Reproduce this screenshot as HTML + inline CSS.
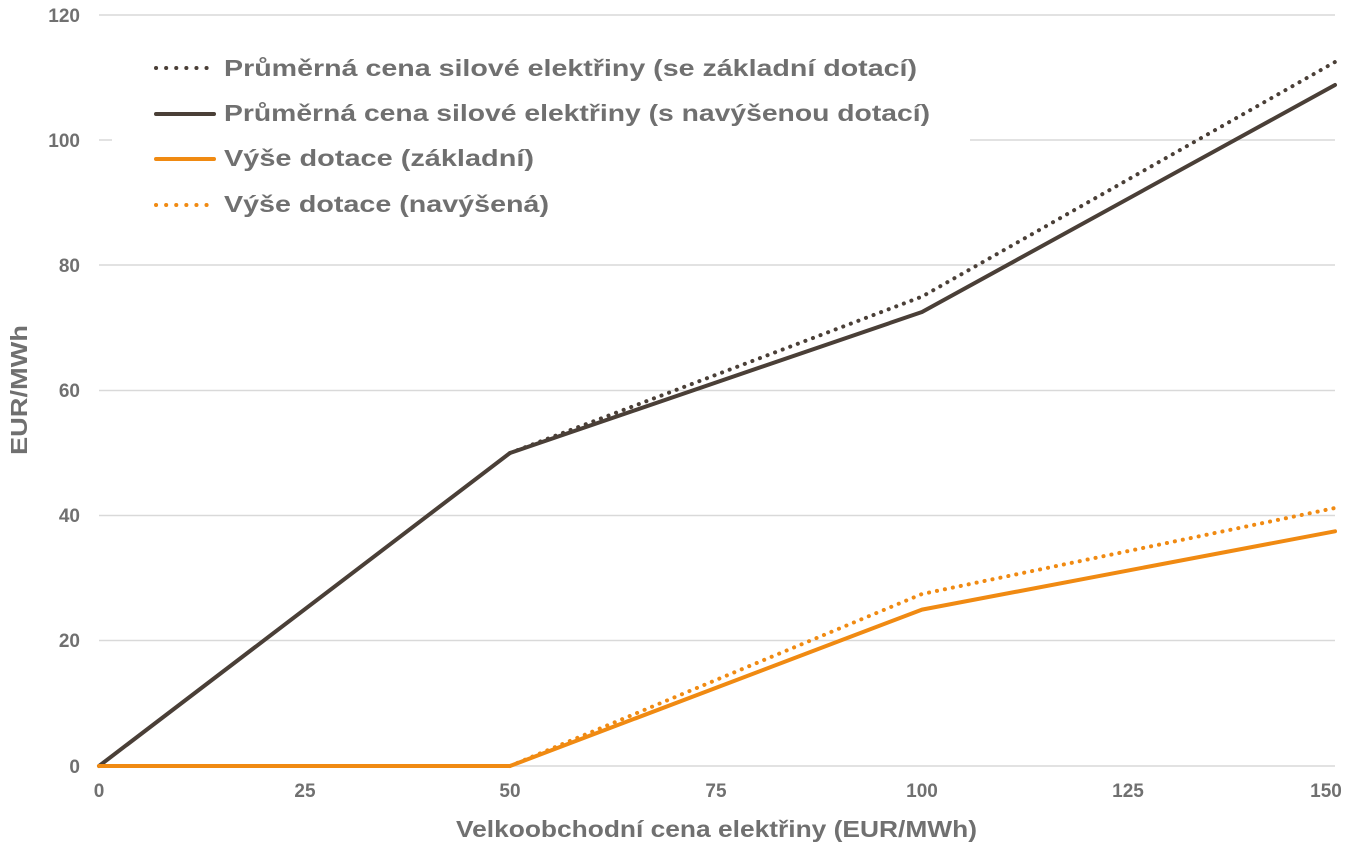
<!DOCTYPE html>
<html><head><meta charset="utf-8"><style>
body{margin:0;background:#fff}
svg text{font-family:"Liberation Sans",sans-serif;font-weight:bold;fill:#707070}
</style></head><body>
<svg width="1358" height="848" xmlns="http://www.w3.org/2000/svg">
<g stroke="#d9d9d9" stroke-width="1.5">
<line x1="99" x2="1335" y1="15" y2="15"/><line x1="99" x2="1335" y1="140" y2="140"/>
<line x1="99" x2="1335" y1="265" y2="265"/><line x1="99" x2="1335" y1="390.5" y2="390.5"/>
<line x1="99" x2="1335" y1="515.5" y2="515.5"/><line x1="99" x2="1335" y1="640.5" y2="640.5"/>
<line x1="99" x2="1335" y1="766" y2="766"/>
</g>
<rect x="112" y="40" width="858" height="190" fill="#fff"/>
<g font-size="19" text-anchor="end">
<text x="80" y="22">120</text><text x="80" y="147">100</text><text x="80" y="272">80</text>
<text x="80" y="397">60</text><text x="80" y="522">40</text><text x="80" y="647">20</text><text x="80" y="773">0</text>
</g>
<g font-size="19" text-anchor="middle">
<text x="99" y="797">0</text><text x="305" y="797">25</text><text x="510" y="797">50</text>
<text x="716" y="797">75</text><text x="922" y="797">100</text><text x="1128" y="797">125</text><text x="1326" y="797">150</text>
</g>
<text x="456" y="837" font-size="23" textLength="521" lengthAdjust="spacingAndGlyphs">Velkoobchodní cena elektřiny (EUR/MWh)</text>
<text transform="translate(27,455) rotate(-90)" font-size="23" textLength="130" lengthAdjust="spacingAndGlyphs">EUR/MWh</text>
<g fill="none" stroke-linecap="round" stroke-linejoin="round">
<polyline points="510,453 922,296.6 1335,62" stroke="#4a3f37" stroke-width="4" stroke-dasharray="0.1 8"/>
<polyline points="99,766 510,453 922,312 1335,85" stroke="#4a3f37" stroke-width="4"/>
<polyline points="510,766 922,594 1335,508" stroke="#f08a12" stroke-width="4" stroke-dasharray="0.1 8"/>
<polyline points="99,766 510,766 922,609.6 1335,531.3" stroke="#f08a12" stroke-width="4"/>
<line x1="156" x2="214" y1="68" y2="68" stroke="#4a3f37" stroke-width="4" stroke-dasharray="0.1 10"/>
<line x1="156" x2="214" y1="114" y2="114" stroke="#4a3f37" stroke-width="4"/>
<line x1="156" x2="214" y1="159" y2="159" stroke="#f08a12" stroke-width="4"/>
<line x1="156" x2="214" y1="205" y2="205" stroke="#f08a12" stroke-width="4" stroke-dasharray="0.1 10"/>
</g>
<g font-size="23">
<text x="224" y="76" textLength="693" lengthAdjust="spacingAndGlyphs">Průměrná cena silové elektřiny (se základní dotací)</text>
<text x="224" y="121" textLength="706" lengthAdjust="spacingAndGlyphs">Průměrná cena silové elektřiny (s navýšenou dotací)</text>
<text x="224" y="166" textLength="310" lengthAdjust="spacingAndGlyphs">Výše dotace (základní)</text>
<text x="224" y="212" textLength="325" lengthAdjust="spacingAndGlyphs">Výše dotace (navýšená)</text>
</g>
</svg>
</body></html>
